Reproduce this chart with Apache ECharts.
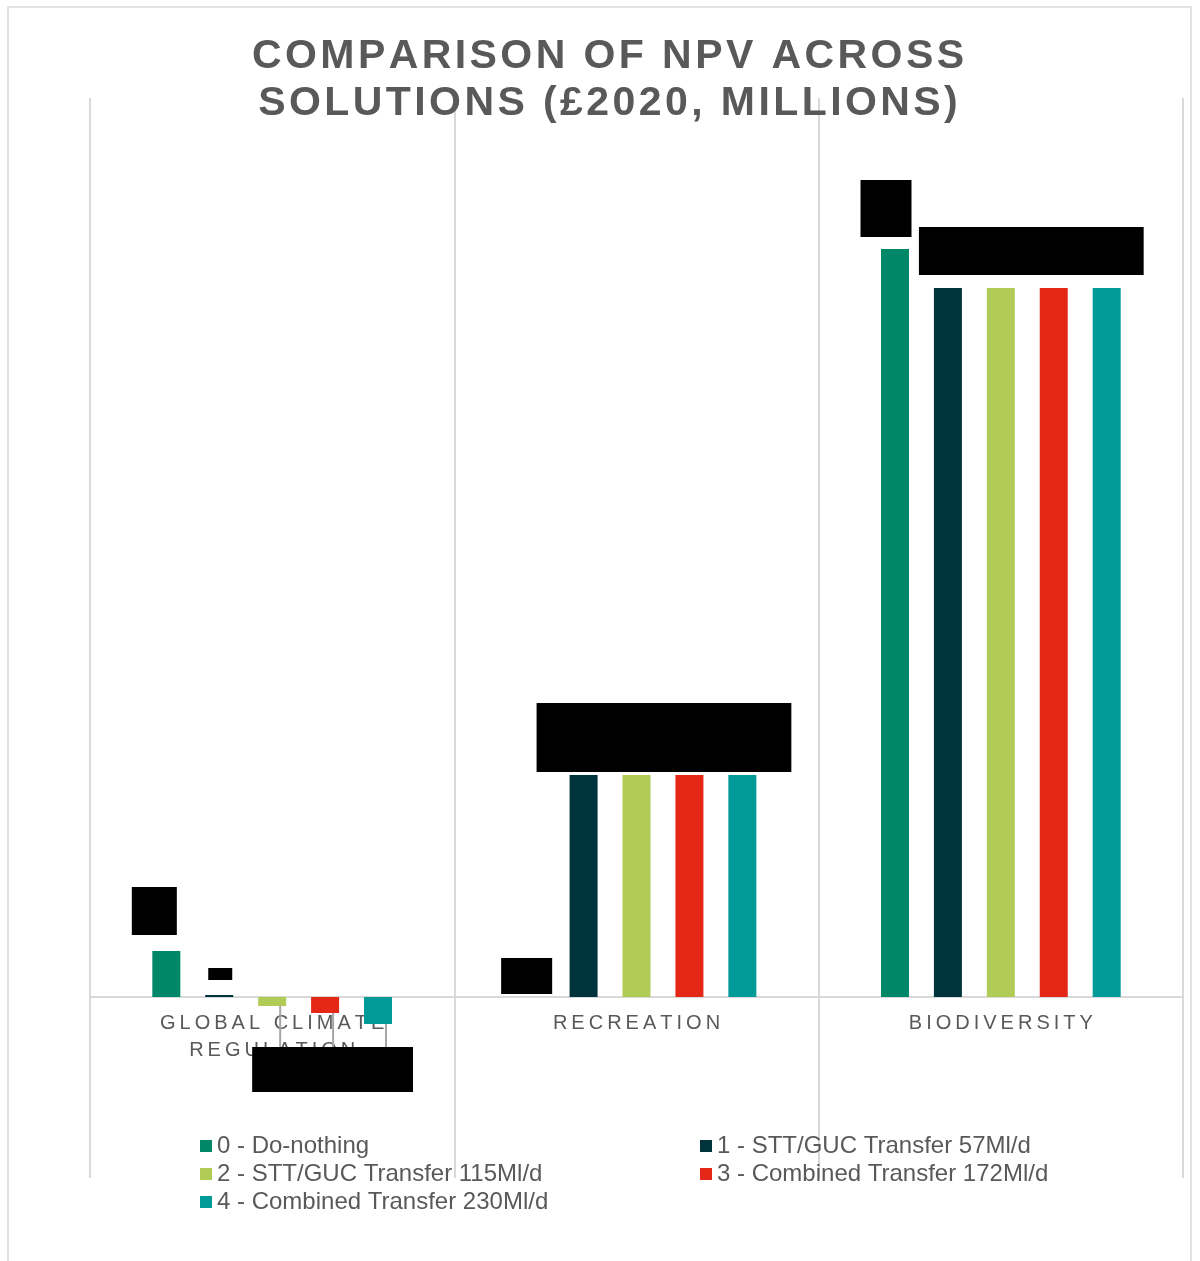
<!DOCTYPE html>
<html><head><meta charset="utf-8">
<script src="https://cdn.jsdelivr.net/npm/echarts@6/dist/echarts.min.js"></script>
<style>
html,body{margin:0;padding:0;background:#fff;}
#frame{position:absolute;left:7px;top:6px;width:1185px;height:1280px;border:2px solid #e2e2e2;box-sizing:border-box;}
#chart{position:absolute;left:0;top:0;width:1200px;height:1261px;}
</style></head><body>
<div id="frame"></div>
<div id="chart"></div>
<script>
// ---- data ----
const TITLE_LINES = ['COMPARISON OF NPV ACROSS', 'SOLUTIONS (£2020, MILLIONS)'];
const CATEGORIES = ['GLOBAL CLIMATE REGULATION', 'RECREATION', 'BIODIVERSITY'];
const SERIES_NAMES = [
  '0 - Do-nothing',
  '1 - STT/GUC Transfer 57Ml/d',
  '2 - STT/GUC Transfer 115Ml/d',
  '3 - Combined Transfer 172Ml/d',
  '4 - Combined Transfer 230Ml/d'
];
const DO_NOTHING      = [4.6, 0.0, 74.8];
const STT_GUC_57      = [0.2, 22.2, 70.9];
const STT_GUC_115     = [-0.9, 22.2, 70.9];
const COMBINED_172    = [-1.6, 22.2, 70.9];
const COMBINED_230    = [-2.7, 22.2, 70.9];
const SERIES_VALUES = [DO_NOTHING, STT_GUC_57, STT_GUC_115, COMBINED_172, COMBINED_230];

// ---- styling ----
const COLORS = ['#008767', '#00343d', '#b0cb56', '#e52717', '#009a99'];
const FONT = '"Liberation Sans", Arial, sans-serif';
// redaction boxes over data labels: width, height, distance, x-offset, below(leader line)
const BOXES = [
  [{w:45,h:48,d:16,dx:-12}, {w:51,h:36,d:3,dx:-4}, {w:51,h:57,d:12,dx:-9}],
  [{w:24,h:12,d:15,dx:1},  {w:72,h:69,d:3,dx:-11}, {w:58,h:48,d:13,dx:0}],
  [{w:56,h:45,below:true}, {w:62,h:69,d:3,dx:0},   {w:58,h:48,d:13,dx:0}],
  [{w:56,h:45,below:true}, {w:62,h:69,d:3,dx:0},   {w:58,h:48,d:13,dx:0}],
  [{w:54,h:45,below:true}, {w:74,h:69,d:3,dx:12},  {w:66,h:48,d:13,dx:4}]
];
const spaced = (s, sp) => s.split('').join(sp);

function wrapLabel(v) {
  const words = v.split(' ');
  const lines = [];
  let cur = '';
  words.forEach(w => {
    if (cur && (cur + ' ' + w).length > 14) { lines.push(cur); cur = w; }
    else cur = cur ? cur + ' ' + w : w;
  });
  if (cur) lines.push(cur);
  return lines.map(l => spaced(l, '\u2009')).join('\n');
}

const chart = echarts.init(document.getElementById('chart'), null, {renderer: 'canvas'});

const series = SERIES_VALUES.map((vals, i) => ({
  name: SERIES_NAMES[i],
  type: 'bar',
  barWidth: 28,
  barGap: '89%',
  itemStyle: {color: COLORS[i]},
  label: {
    show: true,
    position: 'top',
    color: '#000',
    backgroundColor: '#000',
    fontSize: 9,
    padding: 0,
    overflow: 'truncate',
    formatter: p => p.value.toFixed(1)
  },
  labelLayout: p => {
    const b = BOXES[i][p.dataIndex];
    const cx = p.rect.x + p.rect.width / 2;
    if (b.below) {
      return {x: cx + 8, y: p.rect.y + 50, align: 'center', verticalAlign: 'top'};
    }
    return {x: cx + b.dx, y: p.rect.y - b.d, align: 'center', verticalAlign: 'bottom'};
  },
  data: vals.map((v, j) => {
    const b = BOXES[i][j];
    return {
      value: v,
      label: {position: b.below ? 'bottom' : 'top', width: b.w, height: b.h, lineHeight: b.h},
      labelLine: {show: !!b.below, lineStyle: {color: '#a6a6a6', width: 2}}
    };
  })
}));

chart.setOption({
  animation: false,
  title: {
    text: TITLE_LINES.map(l => spaced(l, '\u200A')).join('\n'),
    left: 608, top: 33, padding: 0, textAlign: 'center',
    textStyle: {fontFamily: FONT, fontSize: 41, fontWeight: 'bold', color: '#595959', lineHeight: 47}
  },
  grid: {left: 90, right: 17, top: 98, bottom: 83, containLabel: false},
  legend: [
    {
      data: [SERIES_NAMES[0], SERIES_NAMES[2], SERIES_NAMES[4]],
      orient: 'vertical', left: 200, top: 1134, padding: 0,
      itemWidth: 12, itemHeight: 12, itemGap: 4, icon: 'rect', selectedMode: false,
      textStyle: {fontFamily: FONT, fontSize: 24, lineHeight: 24, color: '#595959'}
    },
    {
      data: [SERIES_NAMES[1], SERIES_NAMES[3]],
      orient: 'vertical', left: 700, top: 1134, padding: 0,
      itemWidth: 12, itemHeight: 12, itemGap: 4, icon: 'rect', selectedMode: false,
      textStyle: {fontFamily: FONT, fontSize: 24, lineHeight: 24, color: '#595959'}
    }
  ],
  xAxis: [{
    type: 'category',
    data: CATEGORIES,
    offset: -181,
    axisLine: {onZero: false, lineStyle: {color: '#d9d9d9', width: 2}},
    axisTick: {show: false},
    splitLine: {show: true, lineStyle: {color: '#d9d9d9', width: 2}},
    axisLabel: {
      interval: 0, margin: 13, color: '#595959', fontFamily: FONT, fontSize: 20, lineHeight: 27,
      formatter: v => wrapLabel(v)
    }
  }],
  yAxis: {
    type: 'value', min: -18.1, max: 89.9, show: false,
    splitLine: {show: false}
  },
  series: series
});
</script>
</body></html>
